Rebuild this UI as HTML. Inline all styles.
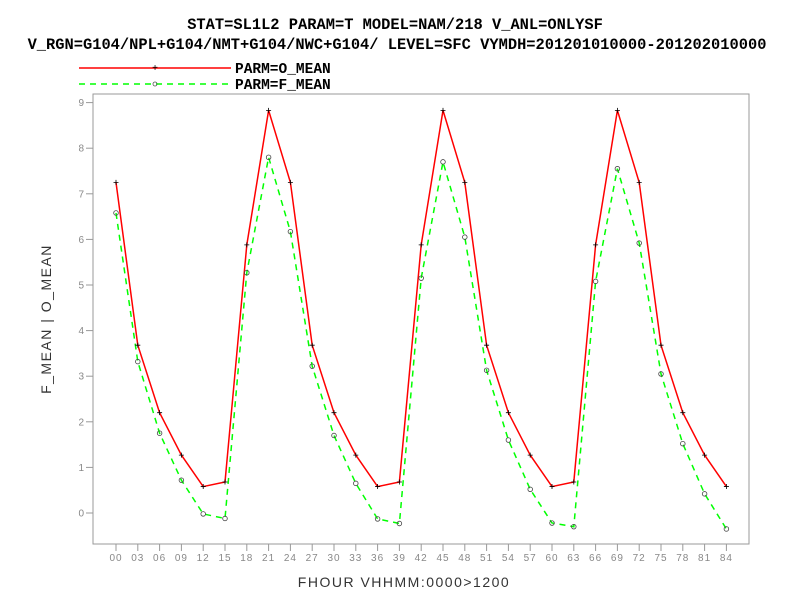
<!DOCTYPE html>
<html><head><meta charset="utf-8"><style>
html,body{margin:0;padding:0;background:#fff;}
svg{display:block;}
</style></head><body>
<svg id="chart" width="792" height="612" xmlns="http://www.w3.org/2000/svg">
<g font-family="Liberation Mono, monospace" font-weight="bold" fill="#000">
<text x="395" y="29" font-size="15.4" text-anchor="middle">STAT=SL1L2 PARAM=T MODEL=NAM/218 V_ANL=ONLYSF</text>
<text x="397" y="49" font-size="15.4" text-anchor="middle">V_RGN=G104/NPL+G104/NMT+G104/NWC+G104/ LEVEL=SFC VYMDH=201201010000-201202010000</text>
</g>
<g>
<line x1="79" y1="68" x2="231" y2="68" stroke="#f00" stroke-width="1.5"/>
<text x="155" y="71" font-size="10" text-anchor="middle" font-family="Liberation Sans, sans-serif">+</text>
<text x="235" y="73" font-size="14.5" font-weight="bold" font-family="Liberation Mono, monospace">PARM=O_MEAN</text>
<line x1="79" y1="84" x2="231" y2="84" stroke="#0f0" stroke-width="1.5" stroke-dasharray="6,5"/>
<circle cx="155" cy="84" r="2" fill="none" stroke="#555" stroke-width="0.8"/>
<text x="235" y="89" font-size="14.5" font-weight="bold" font-family="Liberation Mono, monospace">PARM=F_MEAN</text>
</g>
<rect x="93" y="94" width="656" height="450" fill="none" stroke="#999" stroke-width="1"/>
<g id="yaxis"></g>
<g id="xaxis"></g>
<g id="series"></g>
<text transform="translate(51,319) rotate(-90)" font-size="14" text-anchor="middle" fill="#333" font-family="Liberation Sans, sans-serif" letter-spacing="1.5">F_MEAN | O_MEAN</text>
<text x="404" y="587" font-size="14" text-anchor="middle" fill="#333" font-family="Liberation Sans, sans-serif" letter-spacing="1.5">FHOUR VHHMM:0000&gt;1200</text>
</svg>
<script>
const hours = ["00","03","06","09","12","15","18","21","24","27","30","33","36","39","42","45","48","51","54","57","60","63","66","69","72","75","78","81","84"];
const oMean = [7.25,3.68,2.2,1.27,0.58,0.68,5.88,8.83,7.25,3.68,2.2,1.27,0.58,0.68,5.88,8.83,7.25,3.68,2.2,1.27,0.58,0.68,5.88,8.83,7.25,3.68,2.2,1.27,0.58];
const fMean = [6.58,3.32,1.75,0.72,-0.02,-0.12,5.27,7.8,6.17,3.22,1.7,0.65,-0.13,-0.23,5.15,7.7,6.05,3.13,1.6,0.52,-0.22,-0.3,5.08,7.55,5.92,3.05,1.52,0.42,-0.35];
const yTicks = [0,1,2,3,4,5,6,7,8,9];
const NS = "http://www.w3.org/2000/svg";
function xs(i){ return 116 + i*21.8; }
function ys(v){ return 513 - v*45.6; }
function mk(tag, attrs, parent){ const e=document.createElementNS(NS,tag); for(const k in attrs) e.setAttribute(k,attrs[k]); parent.appendChild(e); return e; }
const ya=document.getElementById('yaxis'), xa=document.getElementById('xaxis'), sg=document.getElementById('series');
yTicks.forEach(t=>{
  const y=ys(t);
  const l=mk('line',{x1:86,y1:y,x2:93,y2:y,stroke:'#999'},ya);
  
  
  const tx=mk('text',{x:84,y:y+3.5,'font-size':10,'text-anchor':'end',fill:'#888','font-family':'Liberation Sans, sans-serif'},ya);
  
  
  tx.textContent=t;
});
hours.forEach((h,i)=>{
  const x=xs(i);
  const l=mk('line',{x1:x,y1:544,x2:x,y2:551,stroke:'#999'},xa);
  
  
  const tx=mk('text',{x:x,y:561,'font-size':10,'text-anchor':'middle',fill:'#888','font-family':'Liberation Sans, sans-serif','letter-spacing':'1'},xa);
  
  
  tx.textContent=h;
});
const pts=a=>a.map((v,i)=>xs(i).toFixed(1)+','+ys(v).toFixed(1)).join(' ');
const fl=mk('polyline',{points:pts(fMean),fill:'none',stroke:'#0f0','stroke-width':1.5,'stroke-dasharray':'6,5'},sg);


const ol=mk('polyline',{points:pts(oMean),fill:'none',stroke:'#f00','stroke-width':1.5},sg);


oMean.forEach((v,i)=>{
  const g=mk('path',{d:`M${xs(i)-2.5},${ys(v)}h5M${xs(i)},${ys(v)-2.5}v5`,stroke:'#000','stroke-width':0.8},sg);
  
  
});
fMean.forEach((v,i)=>{
  const c=mk('circle',{cx:xs(i),cy:ys(v),r:2.3,fill:'none',stroke:'#444','stroke-width':0.8},sg);
  
  
});
</script>
</body></html>
